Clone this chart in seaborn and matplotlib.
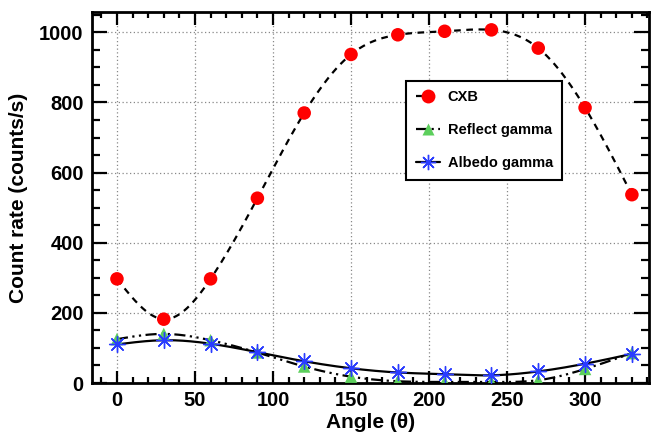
import numpy as np
import pandas as pd
import matplotlib
matplotlib.use("Agg")
import matplotlib.pyplot as plt
import seaborn as sns
from matplotlib.lines import Line2D
from matplotlib.ticker import MultipleLocator

# data
angle = [0, 30, 60, 90, 120, 150, 180, 210, 240, 270, 300, 330]
cxb = [297, 182, 297, 527, 770, 937, 993, 1003, 1007, 955, 785, 537]
reflect = [125, 140, 122, 87, 47, 18, 5, 3, 3, 8, 40, 85]
albedo = [110, 122, 112, 88, 62, 42, 30, 25, 22, 33, 55, 83]


def natural_spline(x, y, xs):
    # plain natural cubic spline through the points, for the smooth curves
    x = np.asarray(x, float)
    y = np.asarray(y, float)
    n = len(x)
    h = np.diff(x)
    A = np.zeros((n, n))
    r = np.zeros(n)
    A[0, 0] = A[-1, -1] = 1
    for i in range(1, n - 1):
        A[i, i - 1] = h[i - 1]
        A[i, i] = 2 * (h[i - 1] + h[i])
        A[i, i + 1] = h[i]
        r[i] = 3 * ((y[i + 1] - y[i]) / h[i] - (y[i] - y[i - 1]) / h[i - 1])
    c = np.linalg.solve(A, r)
    b = (y[1:] - y[:-1]) / h - h * (2 * c[:-1] + c[1:]) / 3
    d = (c[1:] - c[:-1]) / (3 * h)
    idx = np.clip(np.searchsorted(x, xs) - 1, 0, n - 2)
    dx = xs - x[idx]
    return y[idx] + b[idx] * dx + c[idx] * dx ** 2 + d[idx] * dx ** 3


sns.set_style("ticks", {"axes.edgecolor": "black", "xtick.color": "black",
                        "ytick.color": "black", "text.color": "black",
                        "axes.labelcolor": "black"})
plt.rcParams["font.family"] = ["Liberation Sans", "DejaVu Sans"]
plt.rcParams["font.weight"] = "bold"

fig = plt.figure(figsize=(6.51, 4.41), dpi=100)
ax = fig.add_axes([0.1413, 0.1315, 0.8557, 0.8413])

df = pd.DataFrame({"angle": angle, "cxb": cxb, "reflect": reflect, "albedo": albedo})
xs = np.linspace(0, 330, 400)
curves = pd.DataFrame({
    "angle": xs,
    "cxb": natural_spline(angle, cxb, xs),
    "reflect": natural_spline(angle, reflect, xs),
    "albedo": natural_spline(angle, albedo, xs),
})

sns.lineplot(data=curves, x="angle", y="cxb", ax=ax, color="black", lw=1.6,
             linestyle=(0, (3, 2.5)), zorder=2)
sns.lineplot(data=curves, x="angle", y="reflect", ax=ax, color="black", lw=1.6,
             linestyle=(0, (5, 2, 1, 2, 1, 2)), zorder=2)
sns.lineplot(data=curves, x="angle", y="albedo", ax=ax, color="black", lw=1.6,
             linestyle="-", zorder=2)

sns.scatterplot(data=df, x="angle", y="cxb", ax=ax, marker="o", s=95,
                color="#ff0000", edgecolor="none", zorder=3)
sns.scatterplot(data=df, x="angle", y="reflect", ax=ax, marker="^", s=80,
                color="#5ccf5c", edgecolor="none", zorder=3)
sns.scatterplot(data=df, x="angle", y="albedo", ax=ax, marker=(8, 2, 0), s=130,
                color="#2a3cff", linewidth=1.0, zorder=4)

ax.set_xlim(-16, 341)
ax.set_ylim(0, 1058)
ax.xaxis.set_major_locator(MultipleLocator(50))
ax.xaxis.set_minor_locator(MultipleLocator(10))
ax.yaxis.set_major_locator(MultipleLocator(200))
ax.yaxis.set_minor_locator(MultipleLocator(50))
ax.grid(True, which="major", linestyle=(0, (1, 2)), color="#888888", lw=0.9)

for s in ax.spines.values():
    s.set_linewidth(2.0)
    s.set_color("black")
    s.set_visible(True)
ax.tick_params(axis="both", which="both", direction="in", top=True, right=True,
               width=1.6, labelsize=14.5, pad=6, color="black", labelcolor="black")
ax.tick_params(axis="x", which="major", length=9)
ax.tick_params(axis="x", which="minor", length=4.5)
ax.tick_params(axis="y", which="major", length=11)
ax.tick_params(axis="y", which="minor", length=6)
for lab in ax.get_xticklabels() + ax.get_yticklabels():
    lab.set_fontweight("bold")

ax.set_xlabel("Angle (θ)", fontsize=15, fontweight="bold", labelpad=2, color="black")
ax.set_ylabel("Count rate (counts/s)", fontsize=15, fontweight="bold", labelpad=8,
              color="black")

handles = [
    Line2D([], [], color="black", lw=1.6, linestyle=(0, (3, 2.5)), marker="o",
           markersize=10, markerfacecolor="#ff0000", markeredgecolor="none"),
    Line2D([], [], color="black", lw=1.6, linestyle=(0, (5, 2, 1, 2, 1, 2)), marker="^",
           markersize=9, markerfacecolor="#5ccf5c", markeredgecolor="none"),
    Line2D([], [], color="black", lw=1.6, linestyle="-", marker=(8, 2, 0),
           markersize=11, markeredgecolor="#2a3cff", markeredgewidth=1.0),
]
leg = ax.legend(handles, ["CXB", "Reflect gamma", "Albedo gamma"],
                loc="upper left", bbox_to_anchor=(0.564, 0.814), borderaxespad=0,
                fancybox=False, framealpha=1, edgecolor="black", handlelength=1.7,
                prop={"weight": "bold", "size": 10.5}, labelspacing=1.3,
                borderpad=0.65, handletextpad=0.5)
leg.get_frame().set_linewidth(1.5)

fig.savefig("out.png", dpi=100)
